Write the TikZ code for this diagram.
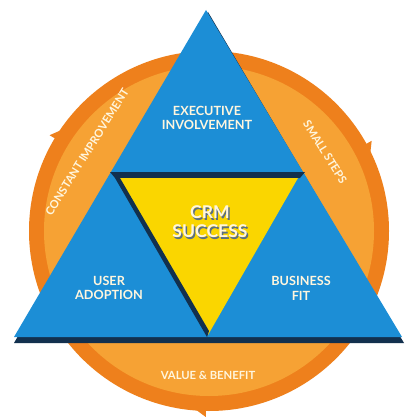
\documentclass[tikz,border=0pt]{standalone}
\usepackage{fontspec}
\setmainfont{Lato}
\definecolor{ringdark}{RGB}{238,128,28}
\definecolor{ringlight}{RGB}{246,162,52}
\definecolor{triblue}{RGB}{28,142,214}
\definecolor{trishade}{RGB}{18,48,78}
\definecolor{triyellow}{RGB}{250,214,0}
\definecolor{labelcol}{RGB}{255,246,222}
\tikzset{
  lbl/.style={text=labelcol, font=\bfseries\fontsize{9}{10.5}\selectfont, align=center},
  ringlbl/.style={text=labelcol, font=\bfseries\fontsize{8}{9}\selectfont},
  biglbl/.style={font=\bfseries\fontsize{12.5}{13.5}\selectfont, align=center},
}
\begin{document}
\begin{tikzpicture}[x=0.025cm, y=-0.025cm]
  \useasboundingbox (0,0) rectangle (420,420);
  \fill[white] (0,0) rectangle (420,420);
  % ring with arrows
  \begin{scope}[shift={(209,231)}]
    \fill[ringdark] (0,0) circle (180);
    \foreach \a in {91,211,331}
      \fill[ringdark] (\a:162) -- (\a:186) -- (\a+6:174) -- cycle;
    \fill[ringlight] (0,0) circle (165);
  \end{scope}
  % triangles
  \fill[trishade] (208,12) -- (404,343) -- (14,343) -- cycle;
  \fill[triblue] (206,10) -- (402,337) -- (14,337) -- cycle;
  \fill[trishade] (110,172) -- (305,172) -- (300,178) -- (115,178) -- cycle;
  \fill[triyellow] (117,178) -- (298,178) -- (208,335) -- cycle;
  \fill[trishade] (115,178) -- (120,178) -- (209,331) -- (207,337) -- cycle;
  % labels
  \node[lbl] (exec) at (207,118) {EXECUTIVE\\INVOLVEMENT};
  \node[biglbl, text=trishade!70] (crmshadow) at (211.5,224) {CRM\\SUCCESS};
  \node[biglbl, text=labelcol] (crm) at (210,222) {CRM\\SUCCESS};
  \node[lbl] (user) at (109,288) {USER\\ADOPTION};
  \node[lbl] (fit) at (301,288) {BUSINESS\\FIT};
  \node[ringlbl] (value) at (208,375) {VALUE \& BENEFIT};
  \node[ringlbl, rotate=58] (constant) at (87,152) {CONSTANT IMPROVEMENT};
  \node[ringlbl, rotate=-58] (steps) at (325,152) {SMALL STEPS};
\end{tikzpicture}
\end{document}
